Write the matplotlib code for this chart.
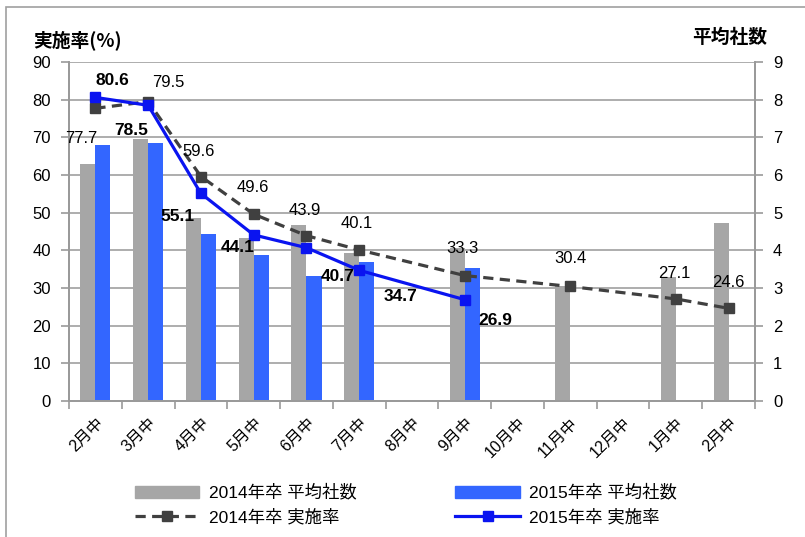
import numpy as np
import matplotlib
matplotlib.use("Agg")
import matplotlib.pyplot as plt
from matplotlib.patches import Patch, Rectangle
from matplotlib.lines import Line2D

plt.rcParams['font.family'] = ['Liberation Sans', 'Noto Sans CJK JP', 'DejaVu Sans']

nan = np.nan
categories = ['2月中', '3月中', '4月中', '5月中', '6月中', '7月中', '8月中',
              '9月中', '10月中', '11月中', '12月中', '1月中', '2月中']
avg_2014 = [6.30, 6.95, 4.85, 4.32, 4.67, 3.92, nan, 4.05, nan, 3.05, nan, 3.30, 4.72]
avg_2015 = [6.80, 6.85, 4.43, 3.88, 3.33, 3.68, nan, 3.52, nan, nan, nan, nan, nan]
rate_2014 = [77.7, 79.5, 59.6, 49.6, 43.9, 40.1, nan, 33.3, nan, 30.4, nan, 27.1, 24.6]
rate_2015 = [80.6, 78.5, 55.1, 44.1, 40.7, 34.7, nan, 26.9, nan, nan, nan, nan, nan]
left_ticks = list(range(0, 91, 10))
right_ticks = list(range(0, 10))
series_names = ['2014年卒 平均社数', '2015年卒 平均社数', '2014年卒 実施率', '2015年卒 実施率']

# label offsets in pixels (dx, dy), styling only
off_2014 = [(-14, -30), (20, 19), (-2, 25), (-1, 27), (-2, 25), (-2, 26), None,
            (-2, 27), None, (0, 28), None, (-2, 25), (0, 26)]
off_2015 = [(17, 17), (-17, -25), (-23, -23), (-16, -13), (31, -29), (41, -26), None,
            (31, -21), None, None, None, None, None]

GRAY_BAR = '#A6A6A6'
BLUE_BAR = '#3366FF'
GRAY_LINE = '#404040'
BLUE_LINE = '#0A14F0'
AX_GRAY = '#9A9A9A'

W, H = 805, 537
fig = plt.figure(figsize=(W / 100, H / 100), dpi=100)
fig.patches.append(Rectangle((6 / W, -0.2), 1.5, 1 - 7 / H + 0.2, transform=fig.transFigure,
                             fill=False, edgecolor='#A0A0A0', lw=1.2))

ax2 = fig.add_axes([69 / W, 1 - 401 / H, (755 - 69) / W, (401 - 62) / H])
ax = ax2.twinx()
ax.yaxis.tick_left()
ax2.yaxis.tick_right()
ax.set_zorder(ax2.get_zorder() + 1)
ax.patch.set_visible(False)

x = np.arange(len(categories))
bw = 0.285
ax2.bar(x - bw / 2, avg_2014, bw, color=GRAY_BAR, zorder=2)
ax2.bar(x + bw / 2, avg_2015, bw, color=BLUE_BAR, zorder=2)
ax2.set_ylim(0, 9)
ax2.set_yticks(right_ticks)
ax2.grid(axis='y', color='#A0A0A0', lw=1.2, zorder=0)
ax2.set_axisbelow(True)

r14 = np.array(rate_2014, dtype=float)
r15 = np.array(rate_2015, dtype=float)
m14 = ~np.isnan(r14)
m15 = ~np.isnan(r15)
ax.plot(x[m14], r14[m14], color=GRAY_LINE, lw=2.3, ls=(0, (3.2, 2.0)), marker='s',
        ms=6.5, zorder=3)
ax.plot(x[m15], r15[m15], color=BLUE_LINE, lw=2.3, marker='s', ms=6.5, zorder=4)
ax.set_ylim(0, 90)
ax.set_yticks(left_ticks)

for i, v in enumerate(rate_2014):
    if off_2014[i] is not None and not np.isnan(v):
        ax.annotate(f'{v:.1f}', (x[i], v), xytext=off_2014[i], textcoords='offset pixels',
                    ha='center', va='center', fontsize=12, color='black', zorder=5)
for i, v in enumerate(rate_2015):
    if off_2015[i] is not None and not np.isnan(v):
        ax.annotate(f'{v:.1f}', (x[i], v), xytext=off_2015[i], textcoords='offset pixels',
                    ha='center', va='center', fontsize=12.5, fontweight='bold', color='black',
                    zorder=5)

ax2.set_xlim(-0.5, len(categories) - 0.5)
ax2.set_xticks(x)
ax2.set_xticklabels(categories, rotation=45, ha='right', rotation_mode='anchor', fontsize=11.5)
ax2.set_xticks(np.arange(-0.5, len(categories)), minor=True)
ax2.tick_params(axis='x', which='major', length=0, pad=10)
ax2.tick_params(axis='x', which='minor', length=6, color=AX_GRAY, width=1.2)
ax2.tick_params(axis='y', length=6, color=AX_GRAY, width=1.2, pad=7, labelsize=12)
ax.tick_params(axis='y', length=6, color=AX_GRAY, width=1.2, pad=7, labelsize=12)

for a in (ax, ax2):
    a.spines['top'].set_visible(False)
    for s in ('left', 'right', 'bottom'):
        a.spines[s].set_color(AX_GRAY)
        a.spines[s].set_linewidth(1.3)

fig.text(78 / W, 1 - 40 / H, '実施率(%)', fontsize=13.5, fontweight='bold',
         family=['Noto Sans CJK JP'], ha='center', va='center')
fig.text(730 / W, 1 - 37 / H, '平均社数', fontsize=13.5, fontweight='bold',
         family=['Noto Sans CJK JP'], ha='center', va='center')

handles = [Patch(color=GRAY_BAR),
           Line2D([], [], color=GRAY_LINE, lw=2.3, ls=(0, (3.2, 2.0)), marker='s', ms=6.5),
           Patch(color=BLUE_BAR),
           Line2D([], [], color=BLUE_LINE, lw=2.3, marker='s', ms=6.5)]
labels = [series_names[0], series_names[2], series_names[1], series_names[3]]
fig.legend(handles, labels, ncol=2, loc='upper left', bbox_to_anchor=(135 / W, 1 - 484 / H),
           frameon=False, fontsize=12.5, handlelength=3.7, handletextpad=0.55,
           columnspacing=5.7, labelspacing=0.45, borderpad=0, borderaxespad=0)

fig.savefig('out.png', dpi=100)
